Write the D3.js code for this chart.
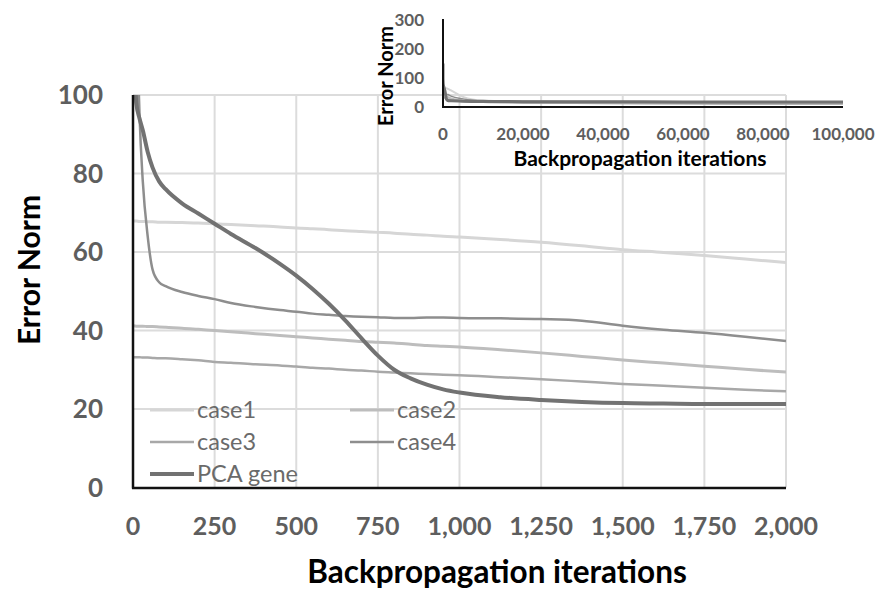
<!DOCTYPE html>
<html>
<head>
<meta charset="utf-8">
<script src="https://cdn.jsdelivr.net/npm/d3@7"></script>
<style>
  body { margin: 0; background: #fff; }
  text { font-family: Lato, "Open Sans", sans-serif; }
</style>
</head>
<body>
<div id="chart"></div>
<script>
// iterations shared by the main (zoomed) view
const iters = [0, 10, 20, 30, 45, 60, 80, 100, 150, 200, 250, 300, 375, 450, 500, 550, 600, 650,
    700, 750, 800, 850, 900, 950, 1000, 1125, 1250, 1375, 1500, 1625, 1750, 1875, 2000]

const case1 = [67.9, 67.9, 67.8, 67.8, 67.7, 67.7, 67.6, 67.6, 67.5, 67.4, 67.2, 67.0, 66.7, 66.4, 66.1, 65.9, 65.7, 65.4,
    65.2, 65.0, 64.8, 64.5, 64.3, 64.0, 63.8, 63.2, 62.5, 61.6, 60.6, 59.9, 59.1, 58.2, 57.3]
const case2 = [41.2, 41.1, 41.1, 41.1, 41.0, 41.0, 40.9, 40.8, 40.6, 40.3, 40.0, 39.7, 39.2, 38.7, 38.4, 38.1, 37.8, 37.5,
    37.2, 37.0, 36.8, 36.5, 36.2, 36.0, 35.8, 35.1, 34.3, 33.4, 32.5, 31.7, 30.9, 30.1, 29.4]
const case3 = [33.2, 33.2, 33.2, 33.1, 33.1, 33.0, 32.9, 32.9, 32.7, 32.4, 32.0, 31.8, 31.4, 31.1, 30.8, 30.5, 30.3, 30.0,
    29.8, 29.5, 29.3, 29.1, 28.9, 28.7, 28.6, 28.1, 27.6, 27.0, 26.4, 25.9, 25.4, 24.9, 24.5]
const case4 = [210, 130, 95, 78, 64, 55.5, 52.3, 51.3, 49.8, 48.8, 48.0, 47.0, 46.0, 45.2, 44.8, 44.3, 44.0, 43.7,
    43.5, 43.4, 43.2, 43.2, 43.3, 43.3, 43.2, 43.1, 42.9, 42.5, 41.2, 40.2, 39.4, 38.4, 37.3]
const pcaGene = [150, 98, 94, 91, 85.5, 81.5, 78, 76, 72.4, 69.8, 67.2, 64.6, 61.0, 57.0, 54.0, 50.6, 46.8, 42.6,
    38.0, 33.6, 30.0, 27.8, 26.2, 25.0, 24.2, 23.0, 22.3, 21.8, 21.5, 21.4, 21.3, 21.3, 21.3]

// long-run tail shown in the inset (after 2000 iterations)
const tailIters = [5000, 10000, 20000, 40000, 60000, 80000, 100000]
const case1Tail = [35, 22, 19, 17, 16, 15, 14]
const case2Tail = [22, 18, 16, 14, 13, 12, 12]
const case3Tail = [19, 16, 14, 12, 11, 10, 10]
const case4Tail = [28, 22, 20, 19, 18, 17.5, 17]
const pcaTail = [20, 19, 18.5, 18, 17.5, 17, 17]

const xTicks = [0, 250, 500, 750, 1000, 1250, 1500, 1750, 2000]
const yTicks = [0, 20, 40, 60, 80, 100]
const insetXTicks = [0, 20000, 40000, 60000, 80000, 100000]
const insetYTicks = [0, 100, 200, 300]

const series = [
    { name: 'case1', values: case1, tail: case1Tail, color: '#d6d6d6', w: 3 },
    { name: 'case2', values: case2, tail: case2Tail, color: '#bdbdbd', w: 3 },
    { name: 'case3', values: case3, tail: case3Tail, color: '#a8a8a8', w: 2.5 },
    { name: 'case4', values: case4, tail: case4Tail, color: '#8e8e8e', w: 2.5 },
    { name: 'PCA gene', values: pcaGene, tail: pcaTail, color: '#727272', w: 4 }
]

const W = 877, H = 592
const svg = d3.select('#chart').append('svg')
    .attr('width', W)
    .attr('height', H)

// ---- main chart ----
const x = d3.scaleLinear().domain([0, 2000]).range([133, 786])
const y = d3.scaleLinear().domain([0, 100]).range([487.5, 95])
const tickColor = '#5e5e5e'

svg.append('clipPath').attr('id', 'clipMain')
    .append('rect').attr('x', 133).attr('y', 95).attr('width', 653).attr('height', 393)

// grid
svg.append('g').selectAll('line.h').data(yTicks.slice(1)).join('line')
    .attr('x1', 133).attr('x2', 786)
    .attr('y1', d => y(d)).attr('y2', d => y(d))
    .attr('stroke', '#dcdcdc').attr('stroke-width', 2)
svg.append('g').selectAll('line.v').data(xTicks.slice(1)).join('line')
    .attr('x1', d => x(d)).attr('x2', d => x(d))
    .attr('y1', y(0)).attr('y2', y(100))
    .attr('stroke', '#dcdcdc').attr('stroke-width', 2)

// tick labels
svg.append('g').selectAll('text').data(yTicks).join('text')
    .attr('x', 103).attr('y', d => y(d)).attr('dy', '0.36em')
    .attr('text-anchor', 'end')
    .attr('font-size', 26).attr('font-weight', 'bold').attr('fill', tickColor)
    .text(d => d)
svg.append('g').selectAll('text').data(xTicks).join('text')
    .attr('x', d => x(d)).attr('y', 535)
    .attr('text-anchor', 'middle')
    .attr('font-size', 25).attr('font-weight', 'bold').attr('fill', tickColor)
    .text(d3.format(','))

// lines
const line = d3.line()
    .x((d, i) => x(iters[i]))
    .y(d => y(d))
    .curve(d3.curveMonotoneX)

svg.append('g').attr('clip-path', 'url(#clipMain)')
    .selectAll('path').data(series).join('path')
    .attr('d', s => line(s.values))
    .attr('fill', 'none')
    .attr('stroke', s => s.color)
    .attr('stroke-width', s => s.w)
    .attr('stroke-linejoin', 'round')

// axes lines
svg.append('line').attr('x1', 133).attr('x2', 133).attr('y1', 95).attr('y2', 488.5)
    .attr('stroke', '#111').attr('stroke-width', 2.5)
svg.append('line').attr('x1', 132).attr('x2', 786).attr('y1', 488).attr('y2', 488)
    .attr('stroke', '#111').attr('stroke-width', 2.5)

// axis titles
svg.append('text')
    .attr('x', 497).attr('y', 583)
    .attr('text-anchor', 'middle')
    .attr('font-size', 31.5).attr('font-weight', 'bold').attr('fill', '#000')
    .text('Backpropagation iterations')
svg.append('text')
    .attr('transform', 'translate(40, 270) rotate(-90)')
    .attr('text-anchor', 'middle')
    .attr('font-size', 30).attr('font-weight', 'bold').attr('fill', '#000')
    .text('Error Norm')

// legend
const legendPos = [[150, 410], [350, 410], [150, 442], [350, 442], [150, 474]]
const legend = svg.append('g').selectAll('g').data(series).join('g')
    .attr('transform', (s, i) => `translate(${legendPos[i][0]}, ${legendPos[i][1]})`)
legend.append('line')
    .attr('x1', 0).attr('x2', 44)
    .attr('stroke', s => s.color).attr('stroke-width', s => s.w)
legend.append('text')
    .attr('x', 47).attr('dy', '0.35em')
    .attr('font-size', 23.5).attr('fill', '#6a6a6a')
    .text(s => s.name)

// ---- inset ----
const ix = d3.scaleLinear().domain([0, 100000]).range([443, 843])
const iy = d3.scaleLinear().domain([0, 300]).range([107, 20])

svg.append('clipPath').attr('id', 'clipInset')
    .append('rect').attr('x', 443).attr('y', 20).attr('width', 400).attr('height', 87)

const allIters = iters.concat(tailIters)
const insetLine = d3.line()
    .x((d, i) => ix(allIters[i]))
    .y(d => iy(d))
    .curve(d3.curveMonotoneX)

svg.append('g').attr('clip-path', 'url(#clipInset)')
    .selectAll('path').data(series).join('path')
    .attr('d', s => insetLine(s.values.concat(s.tail)))
    .attr('fill', 'none')
    .attr('stroke', s => s.color)
    .attr('stroke-width', s => Math.max(1.5, s.w - 1))

svg.append('line').attr('x1', 443).attr('x2', 443).attr('y1', 19).attr('y2', 108)
    .attr('stroke', '#111').attr('stroke-width', 2)
svg.append('line').attr('x1', 442).attr('x2', 843).attr('y1', 107).attr('y2', 107)
    .attr('stroke', '#111').attr('stroke-width', 2)

svg.append('g').selectAll('text').data(insetYTicks).join('text')
    .attr('x', 424).attr('y', d => iy(d)).attr('dy', '0.36em')
    .attr('text-anchor', 'end')
    .attr('font-size', 17).attr('font-weight', 'bold').attr('fill', tickColor)
    .text(d => d)
svg.append('g').selectAll('text').data(insetXTicks).join('text')
    .attr('x', d => ix(d)).attr('y', 140)
    .attr('text-anchor', 'middle')
    .attr('font-size', 17).attr('font-weight', 'bold').attr('fill', tickColor)
    .text(d3.format(','))

svg.append('text')
    .attr('x', 640).attr('y', 166)
    .attr('text-anchor', 'middle')
    .attr('font-size', 21).attr('font-weight', 'bold').attr('fill', '#000')
    .text('Backpropagation iterations')
svg.append('text')
    .attr('transform', 'translate(393, 76) rotate(-90)')
    .attr('text-anchor', 'middle')
    .attr('font-size', 20).attr('font-weight', 'bold').attr('fill', '#000')
    .text('Error Norm')
</script>
</body>
</html>
